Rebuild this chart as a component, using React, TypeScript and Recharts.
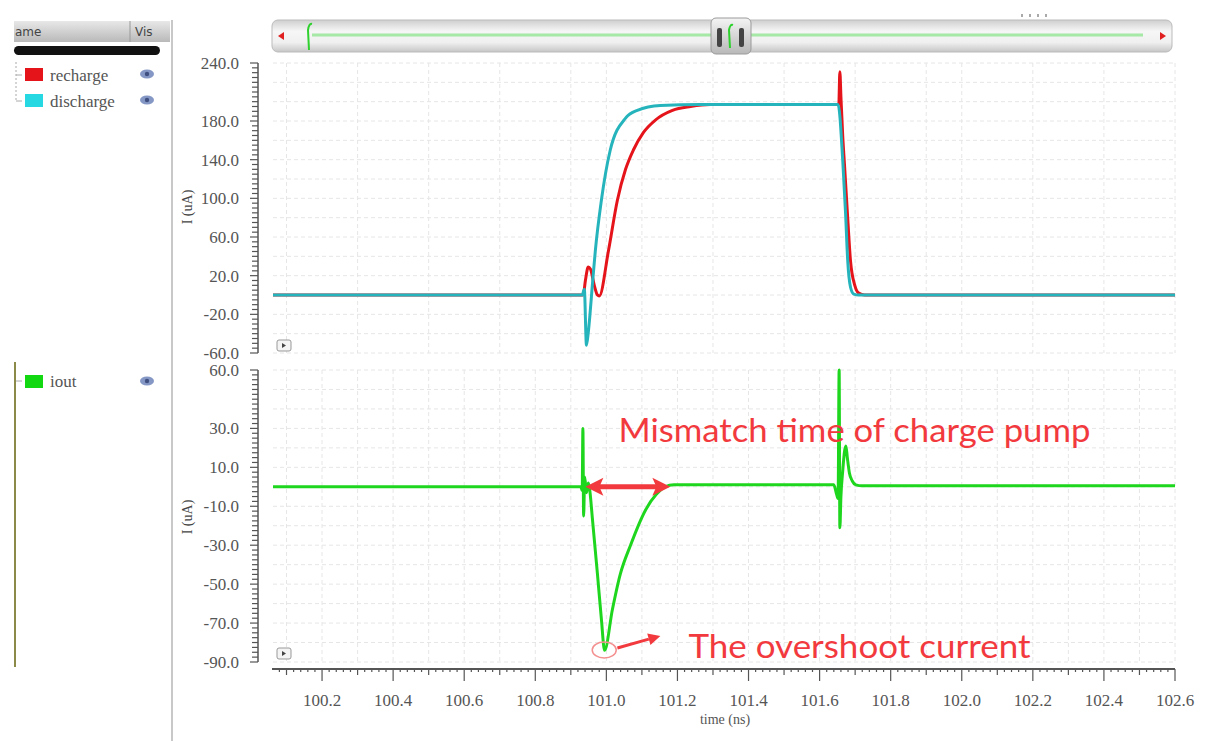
import React from "react";
import {
  LineChart,
  Line,
  XAxis,
  YAxis,
  CartesianGrid,
  ReferenceLine,
  ReferenceDot,
} from "recharts";

// time axis (ns)
const T_START = 100.062;
const T_END = 102.6;
const timeLabels = [100.2, 100.4, 100.6, 100.8, 101.0, 101.2, 101.4, 101.6, 101.8, 102.0, 102.2, 102.4, 102.6];

// upper panel: recharge / discharge, I (uA)
const upperLabels = [240, 180, 140, 100, 60, 20, -20, -60];
const rechargeT = [100.062, 100.935, 100.941, 100.949, 100.955, 100.966, 100.975, 100.98, 101.006, 101.031, 101.054, 101.076, 101.104, 101.138, 101.186, 101.237, 101.293, 101.654, 101.657, 101.66, 101.665, 101.67, 101.679, 101.687, 101.699, 101.71, 101.727, 102.6];
const rechargeI = [0, 0, 15, 29, 27, 10, 0, -1, 46, 98, 130, 150, 168, 181, 191, 195, 197, 197, 231, 205, 165, 135, 80, 35, 10, 2, 0, 0];
const dischargeT = [100.062, 100.932, 100.938, 100.944, 100.949, 100.961, 100.969, 100.986, 101.011, 101.054, 101.087, 101.152, 101.265, 101.652, 101.665, 101.673, 101.679, 101.687, 101.696, 101.71, 102.6];
const dischargeI = [0, 0, 6, -52, -39, 12, 46, 98, 150, 183, 191, 196, 197, 197, 140, 85, 36, 8, 1, 0, 0];

// lower panel: iout, I (uA)
const lowerLabels = [60, 30, 10, -10, -30, -50, -70, -90];
const ioutT = [100.062, 100.928, 100.932, 100.934, 100.936, 100.939, 100.944, 100.949, 100.952, 100.961, 100.975, 100.986, 100.995, 101.017, 101.039, 101.068, 101.11, 101.14, 101.165, 101.19, 101.321, 101.64, 101.648, 101.652, 101.655, 101.657, 101.66, 101.665, 101.67, 101.674, 101.678, 101.684, 101.692, 101.702, 101.72, 102.6];
const ioutI = [0, 0, -2, 30, -15, 5, -3, 2, 0, -17, -45, -68, -84, -63, -45, -30, -12, -4, 0, 1, 1, 1, -4, -6, 60, -21, -5, 8, 18, 21, 15, 7, 3, 1, 0.5, 0.5];

const zip = (t: number[], v: number[]) => t.map((x, i) => ({ t: x, i: v[i] }));
const rechargeData = zip(rechargeT, rechargeI);
const dischargeData = zip(dischargeT, dischargeI);
const ioutData = zip(ioutT, ioutI);

const steps = (from: number, to: number, step: number) => {
  const out: number[] = [];
  for (let k = 0; from + k * step <= to + 1e-9; k++) out.push(Math.round((from + k * step) * 1000) / 1000);
  return out;
};

const upperTicks = steps(-60, 240, 5);
const upperGrid = steps(-60, 240, 20);
const lowerTicks = steps(-90, 60, 2.5);
const lowerGrid = steps(-90, 60, 10);
const timeTicks = steps(100.08, 102.6, 0.02);
const timeGrid = steps(100.1, 102.6, 0.1);

const W = 1205;
const PLOT_L = 273;
const PLOT_R = 1175;
const AXIS_C = "#555";
const serif = "'Liberation Serif', 'DejaVu Serif', serif";
const RED = "#e5141b";
const CYAN = "#26b4bc";
const GREEN = "#1fd61f";
const NOTE = "#f23a3e";
const GRID = "#e6e6e6";

function yTick(labels: number[], min: number, plotH: number) {
  return (props: any) => {
    const { x, y, payload } = props;
    const v = payload.value;
    const labeled = labels.includes(v);
    const lx = x - 15;
    return (
      <g>
        {v === min && <line x1={lx} y1={y} x2={lx} y2={y - plotH} stroke={AXIS_C} strokeWidth={1.5} />}
        <line x1={lx - (labeled ? 8 : 6)} y1={y} x2={lx} y2={y} stroke={AXIS_C} strokeWidth={1.2} />
        {labeled && (
          <text x={x - 34} y={y} dy={6} textAnchor="end" fontFamily={serif} fontSize={17} fill="#555">
            {v.toFixed(1)}
          </text>
        )}
      </g>
    );
  };
}

const XTick = (props: any) => {
  const { x, y, payload, index } = props;
  const v = payload.value;
  const k = Math.round(v * 100);
  const ay = y + 7;
  const len = k % 20 === 0 ? 12 : k % 10 === 0 ? 6 : 3;
  return (
    <g>
      {index === 0 && <line x1={PLOT_L - 1} y1={ay} x2={PLOT_R} y2={ay} stroke={AXIS_C} strokeWidth={2} />}
      <line x1={x} y1={ay} x2={x} y2={ay + len} stroke={AXIS_C} strokeWidth={1.2} />
      {timeLabels.some((l) => Math.round(l * 100) === k) && (
        <text x={x} y={y + 44} textAnchor="middle" fontFamily={serif} fontSize={17} fill="#555">
          {v.toFixed(1)}
        </text>
      )}
    </g>
  );
};

const DoubleArrow = (p: any) => {
  const { x1, y1, x2, y2 } = p;
  return (
    <g>
      <line x1={x1 + 10} y1={y1} x2={x2 - 10} y2={y2} stroke={NOTE} strokeWidth={5} />
      <polygon points={`${x1},${y1} ${x1 + 18},${y1 - 9} ${x1 + 14},${y1} ${x1 + 18},${y1 + 9}`} fill={NOTE} />
      <polygon points={`${x2},${y2} ${x2 - 18},${y2 - 9} ${x2 - 14},${y2} ${x2 - 18},${y2 + 9}`} fill={NOTE} />
    </g>
  );
};

const PointerArrow = (p: any) => {
  const { x1, y1, x2, y2 } = p;
  const a = Math.atan2(y2 - y1, x2 - x1);
  const hx = x2 - 12 * Math.cos(a);
  const hy = y2 - 12 * Math.sin(a);
  const nx = -Math.sin(a) * 6;
  const ny = Math.cos(a) * 6;
  return (
    <g>
      <line x1={x1} y1={y1} x2={hx} y2={hy} stroke={NOTE} strokeWidth={3} />
      <polygon points={`${x2},${y2} ${hx + nx},${hy + ny} ${hx - nx},${hy - ny}`} fill={NOTE} />
    </g>
  );
};

const noteText = (text: string, len: number) => (p: any) => (
  <text x={p.cx} y={p.cy} fontFamily="Lato, 'Open Sans', sans-serif" fontSize={32} fill={NOTE} textLength={len} lengthAdjust="spacingAndGlyphs">
    {text}
  </text>
);

function Eye({ x, y }: { x: number; y: number }) {
  return (
    <g>
      <ellipse cx={x} cy={y} rx={7} ry={4.5} fill="#8597c4" />
      <circle cx={x} cy={y} r={2.2} fill="#3f4f80" />
    </g>
  );
}

function Chrome() {
  return (
    <svg width={W} height={741} style={{ position: "absolute", left: 0, top: 0, pointerEvents: "none" }}>
      <defs>
        <linearGradient id="hdr" x1="0" y1="0" x2="0" y2="1">
          <stop offset="0" stopColor="#e8e8e8" />
          <stop offset="1" stopColor="#b9b9b9" />
        </linearGradient>
        <linearGradient id="bar" x1="0" y1="0" x2="0" y2="1">
          <stop offset="0" stopColor="#cfcfcf" />
          <stop offset="0.35" stopColor="#f6f6f6" />
          <stop offset="0.7" stopColor="#f0f0f0" />
          <stop offset="1" stopColor="#c6c6c6" />
        </linearGradient>
        <linearGradient id="thumb" x1="0" y1="0" x2="0" y2="1">
          <stop offset="0" stopColor="#f4f4f4" />
          <stop offset="1" stopColor="#b8b8b8" />
        </linearGradient>
      </defs>

      {/* signal list panel */}
      <rect x={14} y={21} width={156} height={21} fill="url(#hdr)" />
      <line x1={130} y1={21} x2={130} y2={42} stroke="#999" />
      <text x={15} y={36} fontFamily="'DejaVu Sans', sans-serif" fontSize={12} fill="#444">ame</text>
      <text x={135} y={36} fontFamily="'DejaVu Sans', sans-serif" fontSize={12} fill="#444">Vis</text>
      <rect x={14} y={46} width={146} height={9} rx={4.5} fill="#111" />
      <line x1={172} y1={20} x2={172} y2={741} stroke="#c8c8c8" strokeWidth={2} />
      <line x1={16} y1={62} x2={16} y2={102} stroke="#aaa" strokeDasharray="2 2" />
      <line x1={16} y1={75} x2={22} y2={75} stroke="#aaa" />
      <line x1={16} y1={101} x2={22} y2={101} stroke="#aaa" />
      <rect x={25} y={68} width={18} height={13} fill={RED} />
      <text x={50} y={81} fontFamily={serif} fontSize={17} fill="#555">recharge</text>
      <Eye x={147} y={74} />
      <rect x={25} y={94} width={18} height={13} fill="#25d8e2" />
      <text x={50} y={107} fontFamily={serif} fontSize={17} fill="#555">discharge</text>
      <Eye x={147} y={100} />
      <line x1={15} y1={362} x2={15} y2={667} stroke="#8c8a48" strokeWidth={2} />
      <line x1={16} y1={381} x2={22} y2={381} stroke="#aaa" />
      <rect x={25} y={375} width={18} height={13} fill="#12d812" />
      <text x={50} y={387} fontFamily={serif} fontSize={17} fill="#555">iout</text>
      <Eye x={147} y={381} />

      {/* overview scroll bar */}
      <rect x={272} y={20} width={900} height={32} rx={6} fill="url(#bar)" stroke="#bbb" />
      <line x1={312} y1={35} x2={1143} y2={35} stroke="#a6e8a6" strokeWidth={3} />
      <polygon points="278,36 284,32 284,40" fill="#e02020" />
      <polygon points="1166,36 1160,32 1160,40" fill="#e02020" />
      <path d="M309 50 L308 30 Q309 23 312 24" stroke="#2fd12f" strokeWidth={2} fill="none" />
      <rect x={711} y={18} width={40} height={36} rx={5} fill="url(#thumb)" stroke="#9a9a9a" />
      <rect x={717} y={28} width={5} height={19} rx={2} fill="#444" />
      <rect x={739} y={28} width={5} height={19} rx={2} fill="#444" />
      <path d="M730 48 L729 30 Q730 24 733 25" stroke="#2fd12f" strokeWidth={2} fill="none" />
      {[1021, 1029, 1037, 1045].map((x) => (
        <rect key={x} x={x} y={14} width={2} height={3} fill="#aaa" />
      ))}

      {/* axis titles */}
      <text transform="translate(192,207) rotate(-90)" textAnchor="middle" fontFamily={serif} fontSize={14} fill="#444">I (uA)</text>
      <text transform="translate(192,517) rotate(-90)" textAnchor="middle" fontFamily={serif} fontSize={14} fill="#444">I (uA)</text>
      <text x={725} y={724} textAnchor="middle" fontFamily={serif} fontSize={14} fill="#555">time (ns)</text>

      {/* panel buttons */}
      {[340, 648].map((y) => (
        <g key={y}>
          <rect x={277} y={y} width={14} height={11} rx={2} fill="#f4f4f4" stroke="#999" />
          <polygon points={`${282},${y + 3} ${286},${y + 5.5} ${282},${y + 8}`} fill="#444" />
        </g>
      ))}
    </svg>
  );
}

export default function App() {
  const upperH = 370;
  const lowerH = 381;
  return (
    <div style={{ position: "absolute", left: 0, top: 0, width: W, height: 741, background: "#fff", overflow: "hidden" }}>
      <div style={{ position: "absolute", left: 0, top: 0 }}>
        <LineChart width={W} height={upperH} margin={{ top: 63, right: W - PLOT_R, bottom: 17, left: 0 }}>
          <CartesianGrid horizontalValues={upperGrid} verticalValues={timeGrid} stroke={GRID} strokeDasharray="4 3" />
          <XAxis type="number" dataKey="t" domain={[T_START, T_END]} allowDataOverflow hide />
          <YAxis
            type="number"
            domain={[-60, 240]}
            ticks={upperTicks}
            interval={0}
            width={PLOT_L}
            axisLine={false}
            tickLine={false}
            tickSize={0}
            tickMargin={0}
            tick={yTick(upperLabels, -60, 290)}
          />
          <Line data={rechargeData} dataKey="i" type="monotoneX" stroke={RED} strokeWidth={3} dot={false} isAnimationActive={false} />
          <Line data={dischargeData} dataKey="i" type="monotoneX" stroke={CYAN} strokeWidth={3} dot={false} isAnimationActive={false} />
        </LineChart>
      </div>
      <div style={{ position: "absolute", left: 0, top: 360 }}>
        <LineChart width={W} height={lowerH} margin={{ top: 10, right: W - PLOT_R, bottom: 19, left: 0 }}>
          <CartesianGrid horizontalValues={lowerGrid} verticalValues={timeGrid} stroke={GRID} strokeDasharray="4 3" />
          <XAxis
            type="number"
            dataKey="t"
            domain={[T_START, T_END]}
            allowDataOverflow
            ticks={timeTicks}
            interval={0}
            height={60}
            axisLine={false}
            tickLine={false}
            tickSize={0}
            tickMargin={0}
            tick={XTick}
          />
          <YAxis
            type="number"
            domain={[-90, 60]}
            ticks={lowerTicks}
            interval={0}
            width={PLOT_L}
            axisLine={false}
            tickLine={false}
            tickSize={0}
            tickMargin={0}
            tick={yTick(lowerLabels, -90, 292)}
          />
          <Line data={ioutData} dataKey="i" type="monotoneX" stroke={GREEN} strokeWidth={3} dot={false} isAnimationActive={false} />
          <ReferenceLine segment={[{ x: 100.941, y: 0 }, { x: 101.18, y: 0 }]} shape={DoubleArrow} />
          <ReferenceDot x={100.994} y={-83.8} r={10} shape={(p: any) => <ellipse cx={p.cx} cy={p.cy} rx={12} ry={8} fill="none" stroke="#f49090" strokeWidth={1.5} />} />
          <ReferenceLine segment={[{ x: 101.031, y: -82.8 }, { x: 101.152, y: -76.6 }]} shape={PointerArrow} />
          <ReferenceDot x={101.034} y={23} r={1} shape={noteText("Mismatch time of charge pump", 472)} />
          <ReferenceDot x={101.231} y={-88} r={1} shape={noteText("The overshoot  current", 342)} />
        </LineChart>
      </div>
      <Chrome />
    </div>
  );
}
